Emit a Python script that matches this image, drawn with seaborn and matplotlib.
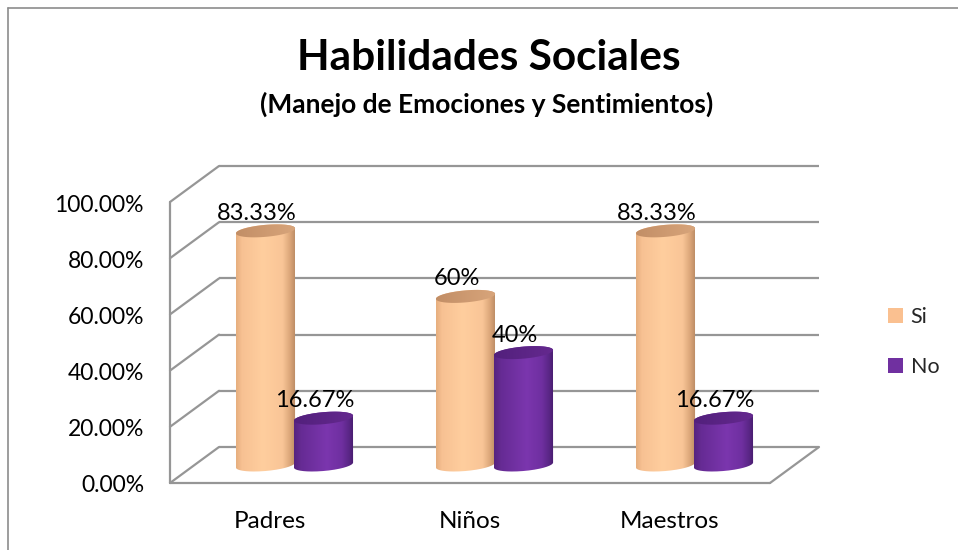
import numpy as np
import pandas as pd
import matplotlib
matplotlib.use("Agg")
import matplotlib.pyplot as plt
import seaborn as sns
from matplotlib.path import Path
from matplotlib.patches import PathPatch, Patch, Polygon
from matplotlib.colors import LinearSegmentedColormap

# ---- data -------------------------------------------------------------
grupos = ["Padres", "Niños", "Maestros"]
respuestas = ["Si", "No"]
valores_si = [83.33, 60.0, 83.33]
valores_no = [16.67, 40.0, 16.67]
etiquetas_si = ["83.33%", "60%", "83.33%"]
etiquetas_no = ["16.67%", "40%", "16.67%"]
ticks = [0, 20, 40, 60, 80, 100]
tick_labels = ["0.00%", "20.00%", "40.00%", "60.00%", "80.00%", "100.00%"]

titulo = "Habilidades Sociales"
subtitulo = "(Manejo de Emociones y Sentimientos)"

# ---- style ------------------------------------------------------------
sns.set_theme(style="white")
plt.rcParams["font.family"] = ["Lato", "DejaVu Sans"]

W, H, DPI = 958, 550, 100
GRID = "#969696"
TXT = "#000000"
COL_SI = "#FAC090"
COL_NO = "#7030A0"

cmap_si = LinearSegmentedColormap.from_list(
    "si", [(0, "#E6AE7E"), (0.1, "#F7C193"), (0.45, "#FFCE9E"),
           (0.78, "#F9C597"), (0.9, "#DCA77A"), (1, "#B88962")])
cmap_no = LinearSegmentedColormap.from_list(
    "no", [(0, "#55237F"), (0.12, "#662B94"), (0.55, "#7B36AE"),
           (0.8, "#6F2FA0"), (0.92, "#5A2686"), (1, "#461B6C")])
cap_si = LinearSegmentedColormap.from_list("csi", ["#C28E66", "#D8A57B"])
cap_no = LinearSegmentedColormap.from_list("cno", ["#52207C", "#65298F"])

fig = plt.figure(figsize=(W / DPI, H / DPI), dpi=DPI)
fig.patch.set_facecolor("white")
ax = fig.add_axes([0, 0, 1, 1])

df = pd.DataFrame({
    "Grupo": grupos * 2,
    "Respuesta": ["Si"] * len(grupos) + ["No"] * len(grupos),
    "Valor": valores_si + valores_no,
})
sns.barplot(data=df, x="Grupo", y="Valor", hue="Respuesta",
            hue_order=respuestas, palette=[COL_SI, COL_NO],
            width=0.58, errorbar=None, legend=False, ax=ax)

# projection of the chart box: pixel scale of the mid-depth plane
X0_PX, PX_CAT = 294.5, 200.0      # category 0 centre, pixels per category
Y0_PX, PX_PCT = 465.0, 2.81       # zero line from top, pixels per percent
DX = 24.5 / PX_CAT                # half depth, horizontal (data units)
DY = 18.0 / PX_PCT                # half depth, vertical (data units)
XL, XR = -0.5, 2.5                # side walls
PT = 72 / DPI                     # points per pixel

# ---- walls and floor --------------------------------------------------
lw = 1.6
for v in ticks:
    ax.plot([XL + DX, XR + DX], [v + DY, v + DY], color=GRID, lw=lw, zorder=1,
            solid_capstyle="butt")
    ax.plot([XL - DX, XL + DX], [v - DY, v + DY], color=GRID, lw=lw, zorder=1)
ax.plot([XL - DX, XL - DX], [-DY, ticks[-1] - DY], color=GRID, lw=lw, zorder=1)
ax.plot([XL - DX, XR - DX], [-DY, -DY], color=GRID, lw=lw, zorder=1)
ax.plot([XR - DX, XR + DX], [-DY, DY], color=GRID, lw=lw, zorder=1)

for v, lab in zip(ticks, tick_labels):
    ax.annotate(lab, (XL - DX, v - DY), xytext=(-26 * PT, -3 * PT),
                textcoords="offset points", ha="right", va="center",
                fontsize=16.5, color=TXT)

for i, g in enumerate(grupos):
    ax.annotate(g, (i - DX, -DY), xytext=(0, -38 * PT),
                textcoords="offset points", ha="center", va="center",
                fontsize=17.5, color=TXT)

# ---- cylinders built on the seaborn bars ------------------------------
B = 6.0 / PX_PCT      # half height of the end ellipses
K = 2.5 / PX_PCT      # slight perspective tilt of the ellipses
grad = np.linspace(0, 1, 256).reshape(1, -1)


def ellipse_pts(cx, a, cy, t):
    return np.column_stack([cx + a * np.cos(t), cy + B * np.sin(t) + K * np.cos(t)])


def cylinder(cx, a, top, cmap, capmap, z):
    t1 = np.linspace(np.pi, 2 * np.pi, 80)
    t2 = np.linspace(0, np.pi, 80)
    pts = np.vstack([ellipse_pts(cx, a, 0, t1), ellipse_pts(cx, a, top, t2)])
    body = PathPatch(Path(pts), fc="none", ec="none", zorder=z)
    ax.add_patch(body)
    im = ax.imshow(grad, cmap=cmap, extent=[cx - a, cx + a, -B - K, top + B + K],
                   aspect="auto", origin="lower", zorder=z, interpolation="bilinear")
    im.set_clip_path(body)
    cap = Polygon(ellipse_pts(cx, a, top, np.linspace(0, 2 * np.pi, 160)),
                  closed=True, fc="none", ec="none", zorder=z + 0.2)
    ax.add_patch(cap)
    im2 = ax.imshow(grad, cmap=capmap, extent=[cx - a, cx + a, top - B - K, top + B + K],
                    aspect="auto", origin="lower", zorder=z + 0.1, interpolation="bilinear")
    im2.set_clip_path(cap)


styles = [(cmap_si, cap_si, etiquetas_si), (cmap_no, cap_no, etiquetas_no)]
for h, (container, (cm, capm, labs)) in enumerate(zip(ax.containers, styles)):
    for j, bar in enumerate(container):
        bar.set_visible(False)
        cx = bar.get_x() + bar.get_width() / 2
        a = bar.get_width() / 2 * 1.02
        top = bar.get_height()
        cylinder(cx, a, top, cm, capm, z=3 + h)
        ax.annotate(labs[j], (cx, top), xytext=(-9 * PT, 11 * PT),
                    textcoords="offset points", ha="center", va="baseline",
                    fontsize=17, color=TXT, zorder=10)

ax.set_xlim((0 - X0_PX) / PX_CAT, (W - X0_PX) / PX_CAT)
ax.set_ylim((Y0_PX - H) / PX_PCT, Y0_PX / PX_PCT)
ax.axis("off")

# ---- titles, legend, outer frame --------------------------------------
fig.text(489 / W, 1 - 70 / H, titulo, ha="center", va="baseline",
         fontsize=30.5, fontweight="bold", color=TXT)
fig.text(487 / W, 1 - 113 / H, subtitulo, ha="center", va="baseline",
         fontsize=19, fontweight="bold", color=TXT)

handles = [Patch(fc=COL_SI, ec="none"), Patch(fc=COL_NO, ec="none")]
fig.legend(handles, respuestas, loc="upper left",
           bbox_to_anchor=(888 / W, 1 - 307 / H), frameon=False,
           fontsize=15.5, handlelength=0.7, handleheight=0.7,
           handletextpad=0.35, labelspacing=1.4, borderpad=0, borderaxespad=0)

fig.add_artist(plt.Line2D([8 / W, 1], [1 - 8 / H, 1 - 8 / H], color="#8c8c8c", lw=1.2,
                          transform=fig.transFigure))
fig.add_artist(plt.Line2D([8 / W, 8 / W], [0, 1 - 8 / H], color="#8c8c8c", lw=1.2,
                          transform=fig.transFigure))

fig.savefig("out.png", dpi=DPI, facecolor="white")
